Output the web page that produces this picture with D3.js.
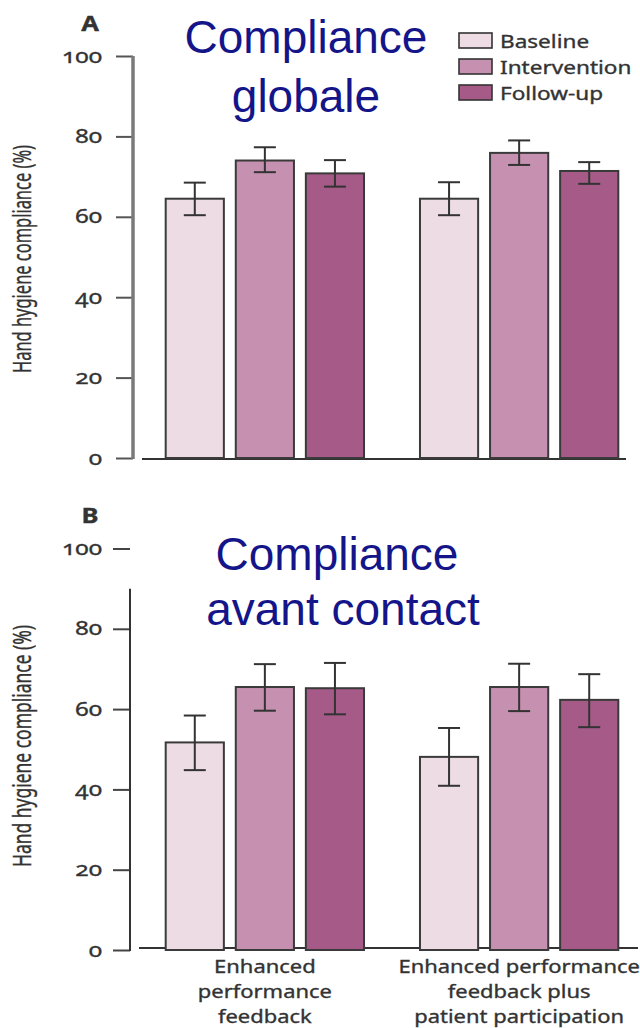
<!DOCTYPE html>
<html>
<head>
<meta charset="utf-8">
<script src="https://cdn.jsdelivr.net/npm/d3@7"></script>
<style>
  html, body { margin: 0; padding: 0; background: #fff; }
  svg { display: block; }
  .lbl { font-family: "Noto Sans", "Open Sans", sans-serif; fill: #333; stroke: #333; stroke-width: 0.35px; font-variant-numeric: oldstyle-nums; font-feature-settings: "onum" 1; }
  .title { font-family: "Liberation Sans", Arial, sans-serif; fill: #15158a; }
</style>
</head>
<body>
<svg id="chart" width="640" height="1028"></svg>
<script>
// Groups (x categories) and series
const groups = ["Enhanced performance feedback", "Enhanced performance feedback plus patient participation"];
const groupLines = [["Enhanced", "performance", "feedback"], ["Enhanced performance", "feedback plus", "patient participation"]];
const series = ["Baseline", "Intervention", "Follow-up"];
const yTicks = [0, 20, 40, 60, 80, 100];

// Panel A — overall compliance (%), one value per group
const baselineA      = [64.5, 64.5];
const baselineA_lo   = [60.4, 60.4];
const baselineA_hi   = [68.5, 68.6];
const interventionA    = [74.0, 75.9];
const interventionA_lo = [71.1, 72.9];
const interventionA_hi = [77.3, 79.0];
const followupA      = [70.8, 71.4];
const followupA_lo   = [67.5, 68.2];
const followupA_hi   = [74.1, 73.6];

// Panel B — compliance before patient contact (%)
const baselineB      = [51.7, 48.1];
const baselineB_lo   = [44.8, 40.9];
const baselineB_hi   = [58.4, 55.3];
const interventionB    = [65.5, 65.5];
const interventionB_lo = [59.6, 59.5];
const interventionB_hi = [71.2, 71.3];
const followupB      = [65.2, 62.3];
const followupB_lo   = [58.7, 55.5];
const followupB_hi   = [71.5, 68.7];

const colors = ["#eddce3", "#c690b0", "#a65a88"];
const stretch = 1.22; // horizontal widening of chart lettering

const svg = d3.select("#chart");

const x0 = d3.scaleBand().domain(groups).range([139, 645]).paddingInner(0.22).paddingOuter(0.105);
const x1 = d3.scaleBand().domain(series).range([0, x0.bandwidth()]).paddingInner(0.17).paddingOuter(0);
const color = d3.scaleOrdinal().domain(series).range(colors);

function buildRows(vals, lo, hi) {
  const rows = [];
  groups.forEach((g, gi) => {
    series.forEach((s, si) => {
      rows.push({ g, s, v: vals[si][gi], lo: lo[si][gi], hi: hi[si][gi] });
    });
  });
  return rows;
}

function panel(opts) {
  const y = d3.scaleLinear().domain([0, 100]).range(opts.yRange);
  const g = svg.append("g");

  // y axis
  const axis = d3.axisLeft(y).tickValues(yTicks).tickSize(opts.tickSize).tickPadding(opts.tickPad).tickFormat(d3.format("d"));
  const ax = g.append("g").attr("transform", `translate(${opts.axisX},0)`).call(axis);
  ax.select(".domain").remove();
  ax.selectAll(".tick line").attr("stroke", opts.tickColor).attr("stroke-width", 2);
  ax.selectAll(".tick text")
    .attr("class", "lbl")
    .attr("fill", "#333")
    .style("font-size", "20px")
    .attr("x", null)
    .attr("dy", null)
    .attr("transform", `translate(${-(opts.tickSize + opts.tickPad)},6) scale(${stretch},1)`);

  // axis spine
  g.append("line")
    .attr("x1", opts.axisX).attr("x2", opts.axisX)
    .attr("y1", y(opts.axisTop)).attr("y2", y(0) + 1)
    .attr("stroke", opts.spineColor).attr("stroke-width", opts.spineWidth);

  // baseline along the bars
  g.append("line")
    .attr("x1", opts.axisX + 9).attr("x2", opts.baseEnd)
    .attr("y1", y(0) + opts.baseOffset).attr("y2", y(0) + opts.baseOffset)
    .attr("stroke", "#333").attr("stroke-width", 2);

  const rows = buildRows(opts.vals, opts.lo, opts.hi);

  // bars
  g.selectAll("rect.bar").data(rows).join("rect")
    .attr("class", "bar")
    .attr("x", d => x0(d.g) + x1(d.s))
    .attr("width", x1.bandwidth())
    .attr("y", d => y(d.v))
    .attr("height", d => y(0) - y(d.v))
    .attr("fill", d => color(d.s))
    .attr("stroke", "#3a3a3a").attr("stroke-width", 2);

  // error bars
  const cap = 11;
  const eb = g.selectAll("g.err").data(rows).join("g").attr("class", "err")
    .attr("transform", d => `translate(${x0(d.g) + x1(d.s) + x1.bandwidth() / 2},0)`);
  eb.append("line").attr("y1", d => y(d.hi)).attr("y2", d => y(d.lo)).attr("stroke", "#333").attr("stroke-width", 2);
  eb.append("line").attr("x1", -cap).attr("x2", cap).attr("y1", d => y(d.hi)).attr("y2", d => y(d.hi)).attr("stroke", "#333").attr("stroke-width", 2);
  eb.append("line").attr("x1", -cap).attr("x2", cap).attr("y1", d => y(d.lo)).attr("y2", d => y(d.lo)).attr("stroke", "#333").attr("stroke-width", 2);

  // panel letter
  g.append("text").attr("class", "lbl")
    .attr("transform", `translate(90,${opts.letterY}) scale(${stretch},1)`)
    .attr("text-anchor", "middle")
    .style("font-size", "21px").style("font-weight", "bold")
    .text(opts.letter);

  // y axis title
  g.append("text").attr("class", "lbl")
    .attr("transform", `translate(31,${opts.labelY}) rotate(-90) scale(1,1.45)`)
    .attr("text-anchor", "middle")
    .attr("textLength", opts.labelLen).attr("lengthAdjust", "spacingAndGlyphs")
    .style("font-size", "17px")
    .style("stroke-width", "0.25px")
    .text("Hand hygiene compliance (%)");

  // overlay title
  const t = g.append("text").attr("class", "title")
    .attr("text-anchor", "middle")
    .style("font-size", "46px");
  opts.title.forEach((line, i) => {
    t.append("tspan").attr("x", opts.titleX[i]).attr("y", opts.titleY[i]).text(line);
  });

  return y;
}

panel({
  letter: "A", letterY: 31,
  yRange: [458, 56], axisX: 133, axisTop: 100,
  tickSize: 17, tickPad: 14, tickColor: "#555",
  spineColor: "#7a7a7a", spineWidth: 3.5,
  baseEnd: 626, baseOffset: 1,
  labelY: 259, labelLen: 228,
  vals: [baselineA, interventionA, followupA],
  lo: [baselineA_lo, interventionA_lo, followupA_lo],
  hi: [baselineA_hi, interventionA_hi, followupA_hi],
  title: ["Compliance", "globale"], titleX: [306, 306], titleY: [53, 112]
});

panel({
  letter: "B", letterY: 523,
  yRange: [950, 548.5], axisX: 130, axisTop: 90,
  tickSize: 17, tickPad: 11, tickColor: "#444",
  spineColor: "#333", spineWidth: 2,
  baseEnd: 638, baseOffset: -2,
  labelY: 746, labelLen: 242,
  vals: [baselineB, interventionB, followupB],
  lo: [baselineB_lo, interventionB_lo, followupB_lo],
  hi: [baselineB_hi, interventionB_hi, followupB_hi],
  title: ["Compliance", "avant contact"], titleX: [337, 343], titleY: [570, 625]
});

// category labels under panel B
groups.forEach((gName, gi) => {
  const cx = x0(gName) + x0.bandwidth() / 2;
  groupLines[gi].forEach((line, li) => {
    svg.append("text").attr("class", "lbl")
      .attr("transform", `translate(${cx},${973 + li * 25}) scale(${stretch},1)`)
      .attr("text-anchor", "middle")
      .style("font-size", "18px")
      .text(line);
  });
});

// legend
const legend = svg.append("g").attr("transform", "translate(459,33)");
series.forEach((s, i) => {
  const row = legend.append("g").attr("transform", `translate(0,${i * 26})`);
  row.append("rect").attr("width", 33).attr("height", 15)
    .attr("fill", color(s)).attr("stroke", "#333").attr("stroke-width", 1.6);
  row.append("text").attr("class", "lbl")
    .attr("transform", `translate(41,15) scale(${stretch},1)`)
    .style("font-size", "18.5px")
    .text(s);
});
</script>
</body>
</html>
